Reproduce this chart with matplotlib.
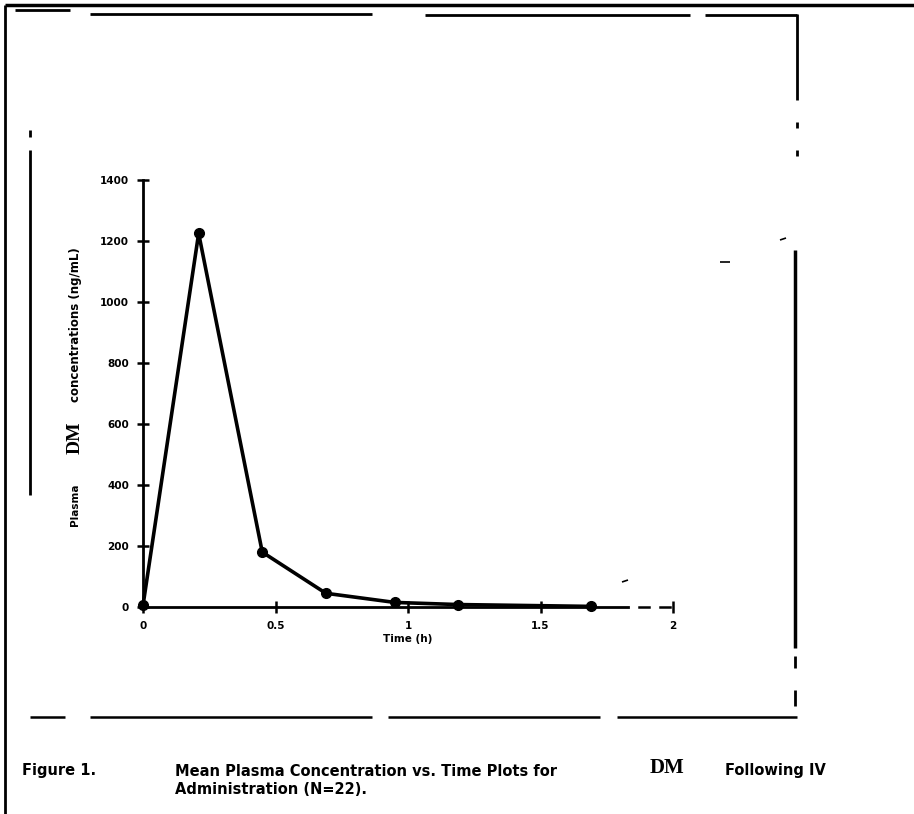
import matplotlib
matplotlib.use("Agg")
import matplotlib.pyplot as plt
from matplotlib.lines import Line2D

# mean plasma DM concentration vs time
time_h = [0.0, 0.21, 0.45, 0.69, 0.95, 1.19, 1.69]
conc = [5, 1225, 180, 45, 15, 8, 2]
yticks = [0, 200, 400, 600, 800, 1000, 1200, 1400]
xticks = [0, 0.5, 1, 1.5, 2]
xticklabels = ['0', '0.5', '1', '1.5', '2']

W, H = 914, 814
HEAVY = 'DejaVu Sans'
SERIF = 'Liberation Serif'

plt.rcParams['font.family'] = HEAVY
plt.rcParams['font.weight'] = 'bold'

fig = plt.figure(figsize=(W / 100, H / 100), dpi=100)


def px(x, y):
    return x / W, 1 - y / H


def seg(x0, y0, x1, y1, lw=2.0):
    a = px(x0, y0)
    b = px(x1, y1)
    fig.add_artist(Line2D([a[0], b[0]], [a[1], b[1]], transform=fig.transFigure,
                          color='black', lw=lw, solid_capstyle='butt'))


# scanned page frame pieces
seg(5, 5, 914, 5, 2.5)
seg(5, 5, 5, 814, 2.0)
seg(15, 10, 70, 10, 2.0)
seg(90, 14, 372, 14, 2.0)
seg(425, 15, 690, 15, 2.0)
seg(705, 15, 797, 15, 2.0)
seg(797, 14, 797, 100, 2.0)
seg(797, 122, 797, 128, 2.0)
seg(797, 150, 797, 156, 2.0)
seg(795, 250, 795, 648, 2.5)
seg(795, 656, 795, 668, 2.0)
seg(795, 690, 795, 706, 2.0)
seg(30, 130, 30, 137, 2.0)
seg(30, 150, 30, 495, 2.0)
seg(30, 717, 65, 717, 1.8)
seg(90, 717, 372, 717, 1.8)
seg(388, 717, 600, 717, 1.8)
seg(617, 717, 797, 717, 1.8)
seg(720, 262, 730, 262, 1.2)
seg(622, 582, 628, 580, 1.2)
seg(780, 240, 786, 238, 1.2)

l, r = px(143, 0)[0], px(673, 0)[0]
b, t = px(0, 607)[1], px(0, 180)[1]
ax = fig.add_axes([l, b, r - l, t - b])

ax.plot(time_h, conc, color='black', lw=2.6, marker='o', markersize=7,
        clip_on=False, zorder=3)

ax.set_xlim(0, 2)
ax.set_ylim(0, 1400)
ax.set_xticks(xticks)
ax.set_xticklabels(xticklabels)
ax.set_yticks(yticks)
for s in ['top', 'right']:
    ax.spines[s].set_visible(False)
ax.spines['left'].set_linewidth(2.0)
ax.spines['bottom'].set_linewidth(2.0)
ax.spines['bottom'].set_bounds(0, 1.83)
ax.tick_params(direction='inout', length=8, width=1.8, labelsize=7.5, pad=6)
for lab in ax.get_xticklabels() + ax.get_yticklabels():
    lab.set_fontweight('bold')

# dashed end of x axis
ax.plot([1.87, 1.91], [0, 0], color='black', lw=1.8, clip_on=False)
ax.plot([1.95, 1.99], [0, 0], color='black', lw=1.8, clip_on=False)

ax.set_xlabel('Time (h)', fontsize=7.5, fontweight='bold', labelpad=2)

# composite y label
fig.text(*px(75, 505), 'Plasma', rotation=90, ha='center', va='center',
         fontsize=7.5, fontweight='bold')
fig.text(*px(75, 438), 'DM', rotation=90, ha='center', va='center',
         fontsize=14, family=SERIF, fontweight='bold')
fig.text(*px(75, 325), 'concentrations (ng/mL)', rotation=90, ha='center',
         va='center', fontsize=8.5, fontweight='bold')

# caption
fig.text(*px(22, 771), 'Figure 1.', ha='left', va='center', fontsize=10.5,
         fontweight='bold')
fig.text(*px(175, 771), 'Mean Plasma Concentration vs. Time Plots for',
         ha='left', va='center', fontsize=10.5, fontweight='bold')
fig.text(*px(650, 768), 'DM', ha='left', va='center', fontsize=15,
         family=SERIF, fontweight='bold')
fig.text(*px(725, 771), 'Following IV', ha='left', va='center', fontsize=10.5,
         fontweight='bold')
fig.text(*px(175, 789), 'Administration (N=22).', ha='left', va='center',
         fontsize=10.5, fontweight='bold')

fig.savefig('out.png', dpi=100)
